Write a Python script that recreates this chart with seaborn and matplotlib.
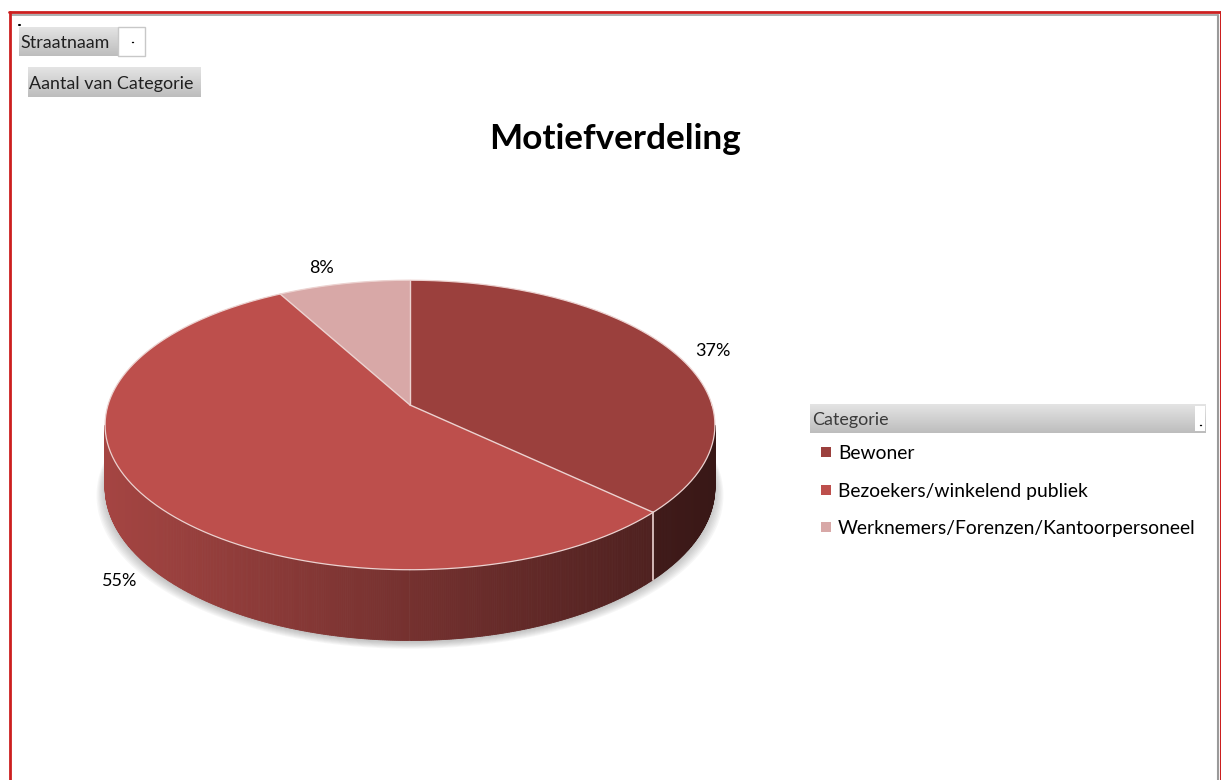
import numpy as np
import matplotlib
matplotlib.use("Agg")
import matplotlib.pyplot as plt
from matplotlib.colors import LinearSegmentedColormap, to_rgb
import seaborn as sns

# data
categories = ["Bewoner", "Bezoekers/winkelend publiek", "Werknemers/Forenzen/Kantoorpersoneel"]
values = [37, 55, 8]
labels = ["37%", "55%", "8%"]
title = "Motiefverdeling"
legend_title = "Categorie"
filter_field = "Straatnaam"
value_field = "Aantal van Categorie"

sns.set_theme(style="white")
plt.rcParams["font.family"] = ["Lato", "DejaVu Sans"]
colors = sns.color_palette(["#9b403d", "#bd4f4c", "#d8a8a7"])

# geometry of the 3d pie (pixels)
CX, CY = 410, 405
R, B, K, T = 302, 142, 0.138, 61


def proj(theta, depth=0.0):
    s, c = np.sin(theta), np.cos(theta)
    d = 1 + K * s
    return CX + R * c / d, CY - B * s / d + depth * T / d


def shade(x):
    f = 0.87 - 0.45 * (x - 107) / 543
    return np.clip(f, 0.36, 1)


fig = plt.figure(figsize=(12.21, 7.8), dpi=100)
ax = fig.add_axes([0, 0, 1, 1])
ax.axis("off")

fracs = np.array(values, dtype=float) / sum(values)
cum = np.concatenate([[0], np.cumsum(fracs)])
starts = np.deg2rad(90 - 360 * cum[:-1])
ends = np.deg2rad(90 - 360 * cum[1:])

# soft shadow under the pie
full = np.linspace(0, 2 * np.pi, 400)
bx, by = proj(full, 1.0)
for i in range(8):
    sx = CX + (bx - CX) * (1 + i * 0.004)
    sy = by + 2 + i * 0.9
    ax.fill(sx, sy, color="#606060", alpha=0.05, lw=0)

# side wall
tl = np.pi + np.arcsin(K)
tr = 2 * np.pi - np.arcsin(K)
steps = np.linspace(tl, tr, 500)
for t0, t1 in zip(steps[:-1], steps[1:]):
    tm = 0.5 * (t0 + t1)
    fr = ((np.pi / 2 - tm) % (2 * np.pi)) / (2 * np.pi)
    idx = np.searchsorted(cum, fr) - 1
    x0, y0 = proj(t0)
    x1, y1 = proj(t1)
    x2, y2 = proj(t1, 1.0)
    x3, y3 = proj(t0, 1.0)
    f = shade(0.5 * (x0 + x1))
    col = tuple(np.array(to_rgb(colors[idx])) * f)
    ax.fill([x0, x1, x2, x3], [y0, y1, y2, y3], color=col, lw=0.6, ec=col)

# top faces
for i in range(len(values)):
    ts = np.linspace(starts[i], ends[i], 200)
    px, py = proj(ts)
    ax.fill(np.concatenate([[CX], px]), np.concatenate([[CY], py]),
            color=colors[i], lw=0)

# light edges
edge = "#ecd2d0"
ex, ey = proj(full)
ax.plot(ex, ey, color=edge, lw=0.9)
for a in starts:
    px, py = proj(a)
    ax.plot([CX, px], [CY, py], color=edge, lw=1.0)
    if tl <= (a % (2 * np.pi)) <= tr:
        qx, qy = proj(a, 1.0)
        ax.plot([px, qx], [py, qy], color=edge, lw=1.2)

# percentage labels
label_pos = [(713, 356), (120, 586), (321, 273)]
for lab, (lx, ly) in zip(labels, label_pos):
    ax.text(lx, ly, lab, ha="center", va="baseline", fontsize=13, color="black")

ax.text(615, 149, title, ha="center", va="baseline", fontsize=25.3,
        fontweight="bold", color="black")


def grad_box(x0, x1, y0, y1, top="#e4e4e4", bottom="#bdbdbd"):
    cmap = LinearSegmentedColormap.from_list("g", [top, bottom])
    g = np.linspace(0, 1, 64).reshape(-1, 1)
    ax.imshow(g, cmap=cmap, extent=(x0, x1, y1, y0), aspect="auto",
              interpolation="bilinear", zorder=2)


# filter buttons
grad_box(19, 118, 27, 56)
ax.add_patch(plt.Rectangle((118, 27), 27, 29, fc="white", ec="#c8c8c8", lw=1, zorder=3))
ax.plot([131.5, 133], [42, 42], color="black", lw=1, zorder=4)
ax.plot([18.5, 19.5], [25, 25], color="black", lw=1.5, zorder=4)
ax.text(20, 48, filter_field, fontsize=12.9, color="#202020", va="baseline", zorder=4)

grad_box(28, 201, 67, 97)
ax.text(29, 89, value_field, fontsize=12.9, color="#202020", va="baseline", zorder=4)

# legend
grad_box(810, 1206, 404, 433)
ax.add_patch(plt.Rectangle((1195, 406), 10, 25, fc="white", ec="none", zorder=3))
ax.plot([1200, 1201], [425, 425], color="black", lw=1, zorder=4)
ax.text(812, 425, legend_title, fontsize=12.9, color="#3a3a3a", va="baseline", zorder=4)
leg_y = [459, 497, 534]
for name, c, yy in zip(categories, colors, leg_y):
    ax.add_patch(plt.Rectangle((821, yy - 12), 10, 10, fc=c, ec="none", zorder=3))
    ax.text(838, yy, name, fontsize=13.9, color="black", va="baseline", zorder=4)

# outer frame
ax.plot([9, 1221], [12, 12], color="#cc1f1f", lw=2, zorder=5)
ax.plot([12, 1217], [14.5, 14.5], color="#a0a0a0", lw=1.2, zorder=5)
ax.plot([10, 10], [12, 780], color="#cc1f1f", lw=2, zorder=5)
ax.plot([1218, 1218], [15, 780], color="#9a9a9a", lw=1.5, zorder=5)
ax.plot([1220.5, 1220.5], [12, 780], color="#cc1f1f", lw=1.5, zorder=5)

ax.set_xlim(0, 1221)
ax.set_ylim(780, 0)
fig.savefig("out.png", dpi=100, facecolor="white")
